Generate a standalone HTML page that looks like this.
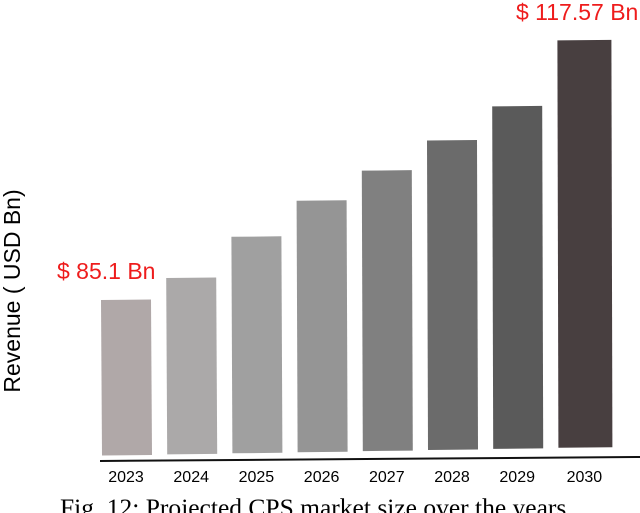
<!DOCTYPE html>
<html><head><meta charset="utf-8"><style>
html,body{margin:0;padding:0;background:#fff;overflow:hidden}
svg{display:block}
</style></head><body>
<svg width="640" height="513" viewBox="0 0 640 513">
<g id="bars"></g>
<line x1="100" y1="461" x2="640" y2="457" stroke="#111" stroke-width="2"/>
<g id="xlabels" font-family="Liberation Sans, sans-serif" font-size="16" fill="#000" text-anchor="middle"></g>
<text x="20" y="291" transform="rotate(-90 20 291)" text-anchor="middle" font-family="Liberation Sans, sans-serif" font-size="23" fill="#000">Revenue ( USD Bn)</text>
<text x="57" y="279" font-family="Liberation Sans, sans-serif" font-size="23" fill="#ee1c1c">$ 85.1 Bn</text>
<text x="516" y="20" font-family="Liberation Sans, sans-serif" font-size="23" fill="#ee1c1c">$ 117.57 Bn</text>
<text x="60" y="516" font-family="Liberation Serif, serif" font-size="25.5" fill="#000">Fig. 12: Projected CPS market size over the years.</text>
</svg>
<script>
const years = ["2023","2024","2025","2026","2027","2028","2029","2030"];
const revenue = [85.1, 87.8, 92.96, 97.47, 101.2, 104.95, 109.2, 117.57];
const colors = ["#b0a8a8","#aba9a9","#a0a0a0","#959595","#808080","#6b6b6b","#5a5a5a","#483f40"];
const v0 = 65.13, k = 7.761;
function yScale(v, i){ return (455 - i) - (v - v0) * k; }
function xScale(i){ return 101 + i * 65.2; }
const ns = "http://www.w3.org/2000/svg";
const bg = document.getElementById("bars");
const xl = document.getElementById("xlabels");
years.forEach((yr, i) => {
  const x = xScale(i), w = i === 7 ? 54 : 50;
  const bottom = 455 - i * 1.1, top = yScale(revenue[i], i * 1.1);
  const p = document.createElementNS(ns, "polygon");
  p.setAttribute("points", `${x},${top} ${x+w},${top-0.5} ${x+w+1},${bottom} ${x+1},${bottom+0.5}`);
  p.setAttribute("fill", colors[i]);
  
  
  bg.appendChild(p);
  const t = document.createElementNS(ns, "text");
  t.setAttribute("x", x + w / 2);
  t.setAttribute("y", 482);
  t.textContent = yr;
  
  
  xl.appendChild(t);
});
</script>
</body></html>
